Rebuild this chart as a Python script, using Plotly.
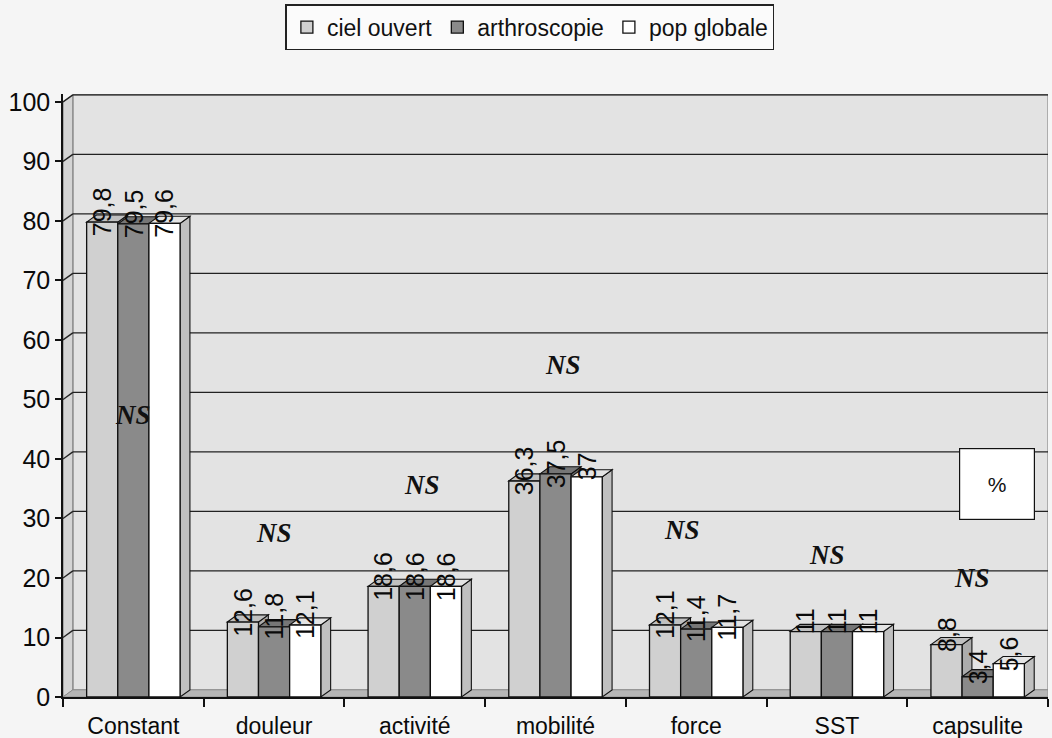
import plotly.graph_objects as go

# Data
categories = ["Constant", "douleur", "activité", "mobilité", "force", "SST", "capsulite"]
series_names = ["ciel ouvert", "arthroscopie", "pop globale"]
ciel_ouvert = [79.8, 12.6, 18.6, 36.3, 12.1, 11, 8.8]
arthroscopie = [79.5, 11.8, 18.6, 37.5, 11.4, 11, 3.4]
pop_globale = [79.6, 12.1, 18.6, 37, 11.7, 11, 5.6]
series_values = [ciel_ouvert, arthroscopie, pop_globale]
y_ticks = [0, 10, 20, 30, 40, 50, 60, 70, 80, 90, 100]

# significance notes: (category index, height on the value axis)
ns_positions = [(0.0, 47.4), (1.0, 27.6), (2.05, 35.6), (3.05, 55.8), (3.9, 28.1), (4.93, 23.9), (5.96, 20.0)]

# Styling
front_colors = ["#d0d0d0", "#8a8a8a", "#ffffff"]
top_colors = ["#c0c0c0", "#767676", "#e4e4e4"]
side_colors = ["#acacac", "#666666", "#c0c0c0"]
wall_color = "#e3e3e3"
side_wall_color = "#d4d4d4"
floor_color = "#b6b6b6"
page_color = "#f5f5f5"
sans = "Liberation Sans, Arial, sans-serif"
serif = "Liberation Serif, Times New Roman, serif"

bargap = 0.336
n = len(series_values)
w = (1 - bargap) / n
dx, dy = 0.07, 1.2          # depth offset of the 3-D look, in axis units
x_lo, x_hi = -0.5, len(categories) - 0.5
y_top = 101.34

fig = go.Figure()
for k, (name, vals) in enumerate(zip(series_names, series_values)):
    fig.add_trace(go.Bar(
        x=list(range(len(categories))), y=vals, name=name,
        marker=dict(color=front_colors[k], line=dict(color="#111", width=1.3)),
        hoverinfo="x+y+name",
    ))

shapes = []


def poly(pts, fill, line="#222", lw=1.0):
    path = "M " + " L ".join(f"{x},{y}" for x, y in pts) + " Z"
    return dict(type="path", path=path, xref="x", yref="y", fillcolor=fill,
                line=dict(color=line, width=lw), layer="below")


# back wall, left wall, floor
shapes.append(poly([(x_lo + dx, dy), (x_hi, dy), (x_hi, 100 + dy), (x_lo + dx, 100 + dy)], wall_color, "#777", 1))
shapes.append(poly([(x_lo, 0), (x_lo + dx, dy), (x_lo + dx, 100 + dy), (x_lo, 100)], side_wall_color, "#777", 1))
shapes.append(poly([(x_lo, 0), (x_hi, 0), (x_hi, dy), (x_lo + dx, dy)], floor_color, "#888", 0.8))

# gridlines on the back wall
for v in y_ticks[1:]:
    shapes.append(dict(type="line", xref="x", yref="y", x0=x_lo, y0=v, x1=x_lo + dx, y1=v + dy,
                       line=dict(color="#222", width=1.4), layer="below"))
    shapes.append(dict(type="line", xref="x", yref="y", x0=x_lo + dx, y0=v + dy, x1=x_hi, y1=v + dy,
                       line=dict(color="#222", width=1.4), layer="below"))

# top and side faces of every bar, plus the rotated value labels
annotations = []
for i in range(len(categories)):
    for k, vals in enumerate(series_values):
        v = vals[i]
        c = i + (k - (n - 1) / 2) * w
        xl, xr = c - w / 2, c + w / 2
        shapes.append(poly([(xr, 0), (xr + dx, dy), (xr + dx, v + dy), (xr, v)], side_colors[k], "#111", 1.1))
        shapes.append(poly([(xl, v), (xl + dx, v + dy), (xr + dx, v + dy), (xr, v)], top_colors[k], "#111", 1.1))
        label = f"{v:g}".replace(".", ",")
        annotations.append(dict(x=c, y=v + 1.7, xref="x", yref="y", text=label, showarrow=False,
                                textangle=-90, xanchor="center", yanchor="middle",
                                font=dict(family=sans, size=25, color="#0a0a0a")))

for xi, yi in ns_positions:
    annotations.append(dict(x=xi, y=yi, xref="x", yref="y", text="NS", showarrow=False,
                            font=dict(family=serif, size=27, color="#111", style="italic", weight="bold")))

annotations.append(dict(x=6.136, y=35.8, xref="x", yref="y", text="%", showarrow=False,
                        width=72, height=68, bgcolor="#ffffff", bordercolor="#111", borderwidth=1.2,
                        font=dict(family=sans, size=21, color="#111")))

fig.update_layout(
    width=1052, height=738,
    margin=dict(l=63, r=4, t=94, b=41, autoexpand=False),
    paper_bgcolor=page_color, plot_bgcolor=page_color,
    barmode="group", bargap=bargap, bargroupgap=0,
    shapes=shapes, annotations=annotations,
    showlegend=True,
    legend=dict(orientation="h", x=0.474, xanchor="center", y=1.149, yanchor="top",
                bgcolor="#fbfbfb", bordercolor="#222", borderwidth=1.5,
                font=dict(family=sans, size=23, color="#111"), itemwidth=30,
                traceorder="normal"),
    xaxis=dict(range=[x_lo, x_hi], tickmode="array", tickvals=list(range(len(categories))),
               ticktext=categories, ticks="", showgrid=False, zeroline=False, automargin=False,
               showline=True, linecolor="#111", linewidth=1.5, ticklabelstandoff=8,
               tickfont=dict(family=sans, size=23, color="#0a0a0a"),
               minor=dict(tick0=-0.5, dtick=1, ticks="outside", ticklen=8, tickcolor="#111",
                          tickwidth=1.5, showgrid=False)),
    yaxis=dict(range=[0, y_top], tickmode="array", tickvals=y_ticks, ticks="outside", ticklen=6,
               tickcolor="#111", tickwidth=1.5, showgrid=False, zeroline=False, automargin=False,
               showline=True, linecolor="#111", linewidth=1.5,
               tickfont=dict(family=sans, size=25, color="#0a0a0a")),
)

fig.write_html("out.html")
